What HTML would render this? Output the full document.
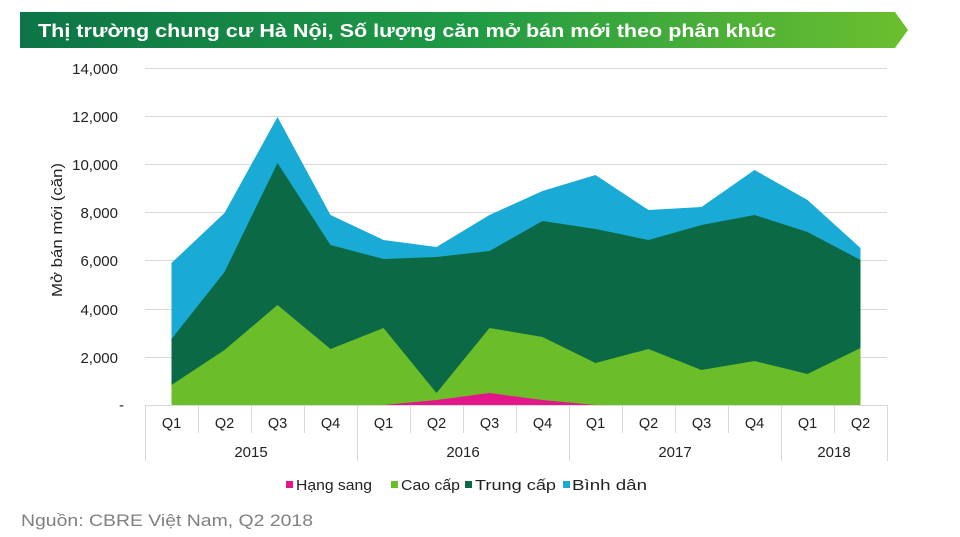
<!DOCTYPE html>
<html>
<head>
<meta charset="utf-8">
<style>
html,body{margin:0;padding:0;background:#ffffff;}
svg{display:block;}
text{font-family:"Liberation Sans",Arial,sans-serif;}
</style>
</head>
<body>
<svg width="960" height="537" viewBox="0 0 960 537" xmlns="http://www.w3.org/2000/svg">
<defs>
<linearGradient id="bg" x1="0" y1="0" x2="1" y2="0">
<stop offset="0" stop-color="#0c7446"/>
<stop offset="0.5" stop-color="#1f9a44"/>
<stop offset="1" stop-color="#6cbf2e"/>
</linearGradient>
</defs>
<rect width="960" height="537" fill="#ffffff"/>

<!-- Title banner -->
<polygon points="20,12 895,12 908,30 895,48 20,48" fill="url(#bg)"/>
<text x="38" y="37" font-size="18" font-weight="bold" fill="#ffffff" textLength="738" lengthAdjust="spacingAndGlyphs">Thị trường chung cư Hà Nội, Số lượng căn mở bán mới theo phân khúc</text>

<!-- Gridlines -->
<g stroke="#d9d9d9" stroke-width="1">
<line x1="145" y1="68.5" x2="887" y2="68.5"/>
<line x1="145" y1="116.5" x2="887" y2="116.5"/>
<line x1="145" y1="164.5" x2="887" y2="164.5"/>
<line x1="145" y1="212.5" x2="887" y2="212.5"/>
<line x1="145" y1="260.5" x2="887" y2="260.5"/>
<line x1="145" y1="309.5" x2="887" y2="309.5"/>
<line x1="145" y1="357.5" x2="887" y2="357.5"/>
</g>

<!-- Y tick labels -->
<g font-size="15" fill="#222" text-anchor="end">
<text x="118" y="74">14,000</text>
<text x="118" y="122">12,000</text>
<text x="118" y="170">10,000</text>
<text x="118" y="218">8,000</text>
<text x="118" y="266">6,000</text>
<text x="118" y="315">4,000</text>
<text x="118" y="363">2,000</text>
<text x="124" y="410">-</text>
</g>

<!-- Y axis title -->
<text transform="translate(62,230) rotate(-90)" font-size="15" fill="#222" text-anchor="middle" textLength="134" lengthAdjust="spacingAndGlyphs">Mở bán mới (căn)</text>

<!-- Areas -->
<polygon fill="#19abd6" points="171.5,405 171.5,263 224.5,213 277.5,117 330.5,215 383.5,240 436.5,247 489.5,215 542.5,191 595.5,175 648.5,210 701.5,207 754.5,170 807.5,200 860.5,248 860.5,405"/>
<polygon fill="#0b6a45" points="171.5,405 171.5,339 224.5,272 277.5,163 330.5,245 383.5,259 436.5,257 489.5,251 542.5,221 595.5,229 648.5,240 701.5,225 754.5,215 807.5,232 860.5,260 860.5,405"/>
<polygon fill="#6bbd2a" points="171.5,405 171.5,385 224.5,350 277.5,305 330.5,349 383.5,328 436.5,393 489.5,328 542.5,337 595.5,363 648.5,349 701.5,370 754.5,361 807.5,374 860.5,348 860.5,405"/>
<polygon fill="#e4168c" points="383.5,405 436.5,400 489.5,393 542.5,400 595.5,405"/>

<!-- Category axis -->
<g stroke="#d9d9d9" stroke-width="1">
<line x1="145" y1="405.5" x2="887" y2="405.5"/>
<line x1="145.5" y1="405" x2="145.5" y2="461"/>
<line x1="198.5" y1="405" x2="198.5" y2="433"/>
<line x1="251.5" y1="405" x2="251.5" y2="433"/>
<line x1="304.5" y1="405" x2="304.5" y2="433"/>
<line x1="357.5" y1="405" x2="357.5" y2="461"/>
<line x1="410.5" y1="405" x2="410.5" y2="433"/>
<line x1="463.5" y1="405" x2="463.5" y2="433"/>
<line x1="516.5" y1="405" x2="516.5" y2="433"/>
<line x1="569.5" y1="405" x2="569.5" y2="461"/>
<line x1="622.5" y1="405" x2="622.5" y2="433"/>
<line x1="675.5" y1="405" x2="675.5" y2="433"/>
<line x1="728.5" y1="405" x2="728.5" y2="433"/>
<line x1="781.5" y1="405" x2="781.5" y2="461"/>
<line x1="834.5" y1="405" x2="834.5" y2="433"/>
<line x1="887.5" y1="405" x2="887.5" y2="461"/>
</g>
<g font-size="14.5" fill="#222" text-anchor="middle">
<text x="171.5" y="428">Q1</text>
<text x="224.5" y="428">Q2</text>
<text x="277.5" y="428">Q3</text>
<text x="330.5" y="428">Q4</text>
<text x="383.5" y="428">Q1</text>
<text x="436.5" y="428">Q2</text>
<text x="489.5" y="428">Q3</text>
<text x="542.5" y="428">Q4</text>
<text x="595.5" y="428">Q1</text>
<text x="648.5" y="428">Q2</text>
<text x="701.5" y="428">Q3</text>
<text x="754.5" y="428">Q4</text>
<text x="807.5" y="428">Q1</text>
<text x="860.5" y="428">Q2</text>
</g>
<g font-size="15" fill="#222" text-anchor="middle">
<text x="251" y="457">2015</text>
<text x="463" y="457">2016</text>
<text x="675" y="457">2017</text>
<text x="834" y="457">2018</text>
</g>

<!-- Legend -->
<rect x="286" y="481" width="7" height="7" fill="#e4168c"/>
<text x="296" y="490" font-size="14.5" fill="#222" textLength="76" lengthAdjust="spacingAndGlyphs">Hạng sang</text>
<rect x="391" y="481" width="7" height="7" fill="#6bbd2a"/>
<text x="401" y="490" font-size="14.5" fill="#222" textLength="59" lengthAdjust="spacingAndGlyphs">Cao cấp</text>
<rect x="465" y="481" width="7" height="7" fill="#0b6a45"/>
<text x="475" y="490" font-size="14.5" fill="#222" textLength="81" lengthAdjust="spacingAndGlyphs">Trung cấp</text>
<rect x="563" y="481" width="7" height="7" fill="#19abd6"/>
<text x="572" y="490" font-size="14.5" fill="#222" textLength="75" lengthAdjust="spacingAndGlyphs">Bình dân</text>

<!-- Footer -->
<text x="21" y="526" font-size="17" fill="#808080" textLength="292" lengthAdjust="spacingAndGlyphs">Nguồn: CBRE Việt Nam, Q2 2018</text>
</svg>
</body>
</html>
